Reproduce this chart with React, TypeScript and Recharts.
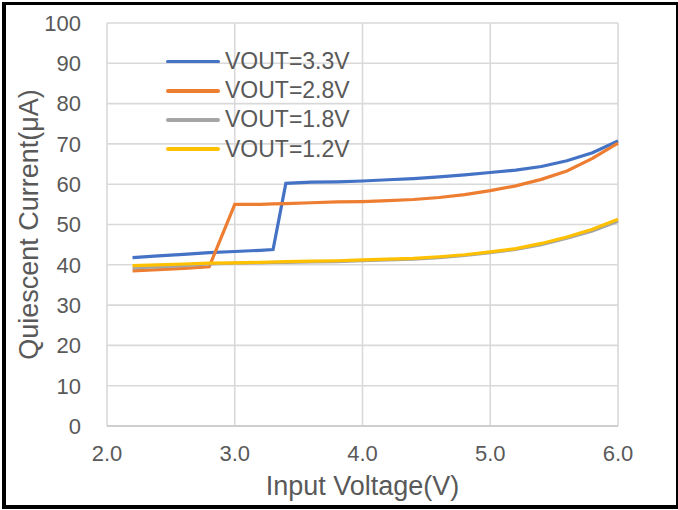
import { LineChart, Line, XAxis, YAxis, CartesianGrid } from "recharts";

const voltages = [2.2, 2.4, 2.6, 2.8, 3.0, 3.2, 3.3, 3.4, 3.6, 3.8, 4.0, 4.2, 4.4, 4.6, 4.8, 5.0, 5.2, 5.4, 5.6, 5.8, 6.0];

const vout33 = [41.8, 42.2, 42.6, 43.0, 43.3, 43.6, 43.8, 60.2, 60.5, 60.6, 60.8, 61.1, 61.4, 61.8, 62.3, 62.9, 63.5, 64.4, 65.8, 67.8, 70.7];
const vout28 = [38.5, 38.8, 39.1, 39.5, 55.0, 55.0, 55.1, 55.2, 55.4, 55.6, 55.7, 55.9, 56.2, 56.7, 57.4, 58.4, 59.6, 61.2, 63.3, 66.4, 70.2];
const vout18 = [39.2, 39.5, 39.8, 40.2, 40.4, 40.5, 40.6, 40.6, 40.7, 40.8, 41.0, 41.2, 41.4, 41.8, 42.3, 43.0, 43.8, 45.0, 46.6, 48.4, 50.8];
const vout12 = [39.8, 40.0, 40.2, 40.4, 40.5, 40.6, 40.7, 40.8, 40.9, 41.0, 41.2, 41.4, 41.6, 42.0, 42.5, 43.2, 44.0, 45.3, 46.9, 48.8, 51.3];

const xTicks = [2, 3, 4, 5, 6];
const yTicks = [0, 10, 20, 30, 40, 50, 60, 70, 80, 90, 100];

const series = [
  { key: "v33", name: "VOUT=3.3V", color: "#4472C4", values: vout33 },
  { key: "v28", name: "VOUT=2.8V", color: "#ED7D31", values: vout28 },
  { key: "v18", name: "VOUT=1.8V", color: "#A5A5A5", values: vout18 },
  { key: "v12", name: "VOUT=1.2V", color: "#FFC000", values: vout12 },
];

const data = voltages.map((v, i) => {
  const row: Record<string, number> = { v };
  series.forEach((s) => (row[s.key] = s.values[i]));
  return row;
});

const textColor = "#595959";
const font = "'Liberation Sans', Arial, sans-serif";

// legend drawn as an overlay so it does not take room from the plot
function LegendBox() {
  return (
    <div style={{ position: "absolute", left: 166, top: 47, fontFamily: font }}>
      {series.map((s) => (
        <div key={s.key} style={{ display: "flex", alignItems: "center", height: 29.2 }}>
          <span style={{ width: 54, height: 3.5, borderRadius: 2, background: s.color, marginRight: 5 }}></span>
          <span style={{ fontSize: 23, color: textColor, lineHeight: "23px" }}>{s.name}</span>
        </div>
      ))}
    </div>
  );
}

export default function App() {
  return (
    <div style={{ position: "fixed", left: 0, top: 0, width: 678, height: 510, background: "#fff" }}>
      <LineChart width={678} height={510} data={data} margin={{ top: 23, right: 60, left: 0, bottom: 0 }}>
        <CartesianGrid stroke="#D9D9D9" strokeWidth={1.6} />
        <XAxis
          dataKey="v"
          type="number"
          domain={[2, 6]}
          ticks={xTicks}
          tickFormatter={(v) => v.toFixed(1)}
          height={84}
          tickSize={0}
          tickMargin={19}
          axisLine={{ stroke: "#CFCFCF", strokeWidth: 2 }}
          tick={{ fill: textColor, fontSize: 22, fontFamily: font }}
          label={(props: any) => {
            const vb = props.viewBox;
            return (
              <text x={vb.x + vb.width / 2} y={vb.y + 69} textAnchor="middle" fill={textColor} fontSize={27} fontFamily={font}>
                Input Voltage(V)
              </text>
            );
          }}
        />
        <YAxis
          type="number"
          domain={[0, 100]}
          ticks={yTicks}
          width={107}
          tickSize={0}
          tickMargin={26}
          axisLine={false}
          tick={{ fill: textColor, fontSize: 22, fontFamily: font }}
          label={(props: any) => {
            const vb = props.viewBox;
            const cx = 29;
            const cy = vb.y + vb.height / 2;
            return (
              <text
                x={cx}
                y={cy}
                transform={`rotate(-90, ${cx}, ${cy})`}
                textAnchor="middle"
                dominantBaseline="central"
                fill={textColor}
                fontSize={27}
                fontFamily={font}
              >
                Quiescent Current(μA)
              </text>
            );
          }}
        />
        {series.map((s) => (
          <Line
            key={s.key}
            type="linear"
            dataKey={s.key}
            name={s.name}
            stroke={s.color}
            strokeWidth={3.2}
            dot={false}
            isAnimationActive={false}
          />
        ))}
      </LineChart>
      <LegendBox />
      <div style={{ position: "absolute", left: 2, top: 2, width: 4, height: 507, background: "#000" }}></div>
      <div style={{ position: "absolute", left: 2, top: 2, width: 676, height: 3, background: "#000" }}></div>
      <div style={{ position: "absolute", left: 2, top: 505, width: 676, height: 4, background: "#000" }}></div>
      <div style={{ position: "absolute", left: 676, top: 2, width: 1.5, height: 507, background: "#000" }}></div>
    </div>
  );
}
